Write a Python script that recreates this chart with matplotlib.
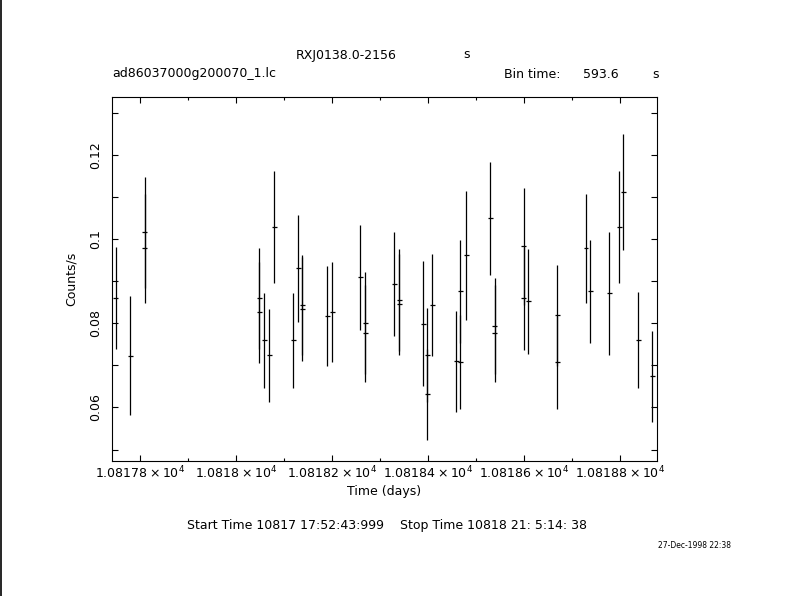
import matplotlib
matplotlib.use('Agg')
import matplotlib.pyplot as plt
from matplotlib.lines import Line2D
from matplotlib.ticker import FixedLocator, MultipleLocator

# light curve: bin centre (days), rate and 1-sigma error (counts/s)
time_days = [
    10817.7489, 10817.7795, 10817.8088, 10817.8088,
    10818.0480, 10818.0480, 10818.0585, 10818.0689, 10818.0793, 10818.1190, 10818.1294, 10818.1378, 10818.1378,
    10818.1900, 10818.2004, 10818.2589, 10818.2693, 10818.2693, 10818.3299, 10818.3403, 10818.3403,
    10818.3904, 10818.3987, 10818.3987, 10818.4092, 10818.4593, 10818.4676, 10818.4676, 10818.4802,
    10818.5303, 10818.5395, 10818.5395, 10818.6000, 10818.6000, 10818.6096, 10818.6701, 10818.6701,
    10818.7301, 10818.7390, 10818.7787, 10818.7996, 10818.8079, 10818.8392, 10818.8685]
rate = [
    0.0861, 0.0723, 0.1016, 0.0978,
    0.0859, 0.0826, 0.0760, 0.0724, 0.1029, 0.0760, 0.0931, 0.0844, 0.0834,
    0.0817, 0.0826, 0.0909, 0.0800, 0.0776, 0.0893, 0.0855, 0.0845,
    0.0799, 0.0724, 0.0631, 0.0843, 0.0710, 0.0876, 0.0708, 0.0962,
    0.1049, 0.0793, 0.0776, 0.0983, 0.0859, 0.0852, 0.0819, 0.0707,
    0.0978, 0.0876, 0.0871, 0.1028, 0.1112, 0.0760, 0.0674]
rate_err = [
    0.0121, 0.0141, 0.0131, 0.0129,
    0.0121, 0.0120, 0.0113, 0.0111, 0.0133, 0.0113, 0.0127, 0.0119, 0.0123,
    0.0118, 0.0119, 0.0125, 0.0121, 0.0115, 0.0123, 0.0122, 0.0120,
    0.0149, 0.0112, 0.0109, 0.0121, 0.0120, 0.0122, 0.0112, 0.0153,
    0.0134, 0.0114, 0.0116, 0.0139, 0.0122, 0.0124, 0.0120, 0.0111,
    0.0129, 0.0122, 0.0146, 0.0133, 0.0138, 0.0114, 0.0108]
time_err = 0.0049  # half-width of the horizontal marks (days)

xtick_vals = [10817.8, 10818.0, 10818.2, 10818.4, 10818.6, 10818.8]
xtick_mant = ['1.08178', '1.0818', '1.08182', '1.08184', '1.08186', '1.08188']
ytick_vals = [0.06, 0.08, 0.1, 0.12]
ytick_labels = ['0.06', '0.08', '0.1', '0.12']

W, H = 790, 596
plt.rcParams['font.family'] = ['DejaVu Sans']

fig = plt.figure(figsize=(W / 100, H / 100), dpi=100)
ax = fig.add_axes([111.5 / W, 1 - 461 / H, (657 - 111.5) / W, (461 - 97) / H])

ax.errorbar(time_days, rate, xerr=time_err, yerr=rate_err, fmt='none',
            ecolor='black', elinewidth=0.9, capsize=0)

ax.set_xlim(10817.7399, 10818.878)
ax.set_ylim(0.04729, 0.13375)

ax.xaxis.set_major_locator(FixedLocator(xtick_vals))
ax.set_xticklabels([r'$\mathregular{' + m + r'\times10^{4}}$' for m in xtick_mant])
ax.xaxis.set_minor_locator(MultipleLocator(0.1))
ax.yaxis.set_major_locator(FixedLocator(ytick_vals))
ax.set_yticklabels(ytick_labels, rotation=90, va='center')
ax.yaxis.set_minor_locator(MultipleLocator(0.01))

ax.tick_params(which='both', direction='in', top=True, right=True,
               width=0.8, labelsize=9, color='black')
ax.tick_params(axis='x', which='major', length=4.3, pad=3)
ax.tick_params(axis='x', which='minor', length=2.2)
ax.tick_params(axis='y', which='both', length=4.3, pad=7)
for s in ax.spines.values():
    s.set_linewidth(0.8)

ax.set_xlabel('Time (days)', fontsize=9, labelpad=2)
ax.set_ylabel('Counts/s', fontsize=9, labelpad=8)

def ftext(px, py, s, **kw):
    fig.text(px / W, 1 - py / H, s, va='center', **kw)

ftext(296, 55, 'RXJ0138.0-2156', fontsize=9)
ftext(467, 55, 's', fontsize=9, ha='center')
ftext(112, 74, 'ad86037000g200070_1.lc', fontsize=9)
ftext(504, 74, 'Bin time:', fontsize=9)
ftext(583, 74, '593.6', fontsize=9)
ftext(655.5, 74, 's', fontsize=9, ha='center')
ftext(387, 526, 'Start Time 10817 17:52:43:999    Stop Time 10818 21: 5:14: 38',
      fontsize=9, ha='center')
ftext(694, 545, '27-Dec-1998 22:38', fontsize=5.5, ha='center')

fig.add_artist(Line2D([0.7 / W, 0.7 / W], [0, 1], transform=fig.transFigure,
                      color='black', lw=1.2))

fig.savefig('out.png', dpi=100)
